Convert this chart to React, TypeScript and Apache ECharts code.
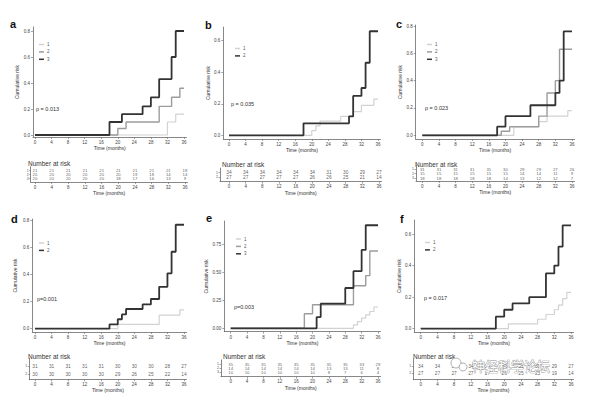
import React, { useEffect, useRef } from "react";
import * as echarts from "echarts";

const timeTicks = [0, 4, 8, 12, 16, 20, 24, 28, 32, 36];

// Panel a
const aCurve1 = [[0, 0], [32, 0.1], [34, 0.16], [36, 0.16]];
const aCurve2 = [[0, 0], [20, 0.05], [22, 0.1], [30, 0.22], [33, 0.29], [35, 0.36], [36, 0.36]];
const aCurve3 = [[0, 0], [18, 0.1], [21, 0.16], [26, 0.22], [28, 0.29], [30, 0.43], [33, 0.6], [34, 0.8], [36, 0.8]];
const aRisk1 = [21, 21, 21, 21, 21, 21, 21, 21, 21, 18];
const aRisk2 = [20, 20, 20, 20, 20, 20, 19, 18, 14, 14];
const aRisk3 = [20, 20, 20, 20, 20, 18, 17, 16, 13, 9];

// Panel b
const bCurve1 = [[0, 0], [20, 0.03], [21, 0.06], [22, 0.09], [27, 0.12], [30, 0.15], [32, 0.19], [35, 0.23], [36, 0.23]];
const bCurve2 = [[0, 0], [18, 0.076], [29, 0.12], [30, 0.25], [32, 0.3], [33, 0.46], [34, 0.66], [36, 0.66]];
const bRisk1 = [34, 34, 34, 34, 34, 34, 31, 30, 29, 27];
const bRisk2 = [27, 27, 27, 27, 27, 26, 26, 25, 21, 14];

// Panel c
const cCurve1 = [[0, 0], [22, 0.063], [28, 0.1], [30, 0.14], [35, 0.18], [36, 0.18]];
const cCurve2 = [[0, 0], [19, 0.03], [21, 0.063], [28, 0.14], [30, 0.31], [32, 0.4], [33, 0.63], [36, 0.63]];
const cCurve3 = [[0, 0], [18, 0.063], [20, 0.14], [26, 0.22], [32, 0.31], [33, 0.4], [34, 0.76], [36, 0.76]];
const cRisk1 = [31, 31, 31, 31, 31, 30, 29, 29, 27, 26];
const cRisk2 = [15, 15, 15, 15, 15, 15, 14, 14, 11, 9];
const cRisk3 = [18, 18, 18, 18, 18, 14, 13, 12, 12, 7];

// Panel d
const dCurve1 = [[0, 0], [20, 0.032], [30, 0.1], [35, 0.14], [36, 0.14]];
const dCurve2 = [[0, 0], [18, 0.032], [20, 0.07], [21, 0.106], [22, 0.146], [26, 0.18], [28, 0.22], [30, 0.31], [32, 0.41], [33, 0.57], [34, 0.77], [36, 0.77]];
const dRisk1 = [31, 31, 31, 31, 31, 30, 30, 30, 28, 27];
const dRisk2 = [30, 30, 30, 30, 30, 29, 26, 25, 22, 14];

// Panel e
const eCurve1 = [[0, 0], [30, 0.03], [31, 0.06], [32, 0.09], [33, 0.12], [34, 0.15], [35, 0.19], [36, 0.19]];
const eCurve2 = [[0, 0], [18, 0.13], [20, 0.21], [30, 0.38], [33, 0.47], [34, 0.69], [36, 0.69]];
const eCurve3 = [[0, 0], [21, 0.1], [22, 0.22], [28, 0.36], [30, 0.51], [32, 0.7], [33, 0.92], [36, 0.92]];
const eRisk1 = [35, 35, 35, 35, 35, 35, 35, 35, 33, 29];
const eRisk2 = [14, 14, 14, 14, 14, 14, 13, 13, 11, 8];
const eRisk3 = [10, 10, 10, 10, 10, 10, 8, 7, 6, 4];

// Panel f
const fCurve1 = [[0, 0], [21, 0.03], [28, 0.06], [30, 0.09], [32, 0.12], [33, 0.15], [34, 0.19], [35, 0.23], [36, 0.23]];
const fCurve2 = [[0, 0], [18, 0.076], [20, 0.12], [22, 0.16], [26, 0.2], [30, 0.35], [32, 0.4], [33, 0.52], [34, 0.655], [36, 0.655]];
const fRisk1 = [34, 34, 34, 34, 34, 34, 31, 30, 29, 27];
const fRisk2 = [27, 27, 27, 27, 27, 26, 25, 23, 19, 14];

const yTicks08 = [0, 0.2, 0.4, 0.6, 0.8];
const yTicks06 = [0, 0.2, 0.4, 0.6];
const yTicks075 = [0, 0.25, 0.5, 0.75];

const pValues = ["p = 0.013", "p = 0.035", "p = 0.023", "p=0.001", "p=0.003", "p = 0.017"];
const letters = ["a", "b", "c", "d", "e", "f"];

const FONT = "Liberation Sans, Arial, Helvetica, sans-serif";
const C1 = "#d2d2d2";
const C2 = "#9c9c9c";
const C3 = "#333333";
const AX = "#6a6a6a";

type L = {
  x0: number; x36: number; axisX: number; y0: number; yT: number; axisTop: number; xAxisY: number;
  yNameGap: number; xNameGap: number; letterX: number; letterY: number; pX: number; pY: number;
  legX: number; legY: number;
  tRows: number[]; tAxisY: number; tX0: number; tX36: number; tAxisX: number; tNameGap: number;
  narX: number; narY: number;
};

const layouts: L[] = [
  { x0: 35, x36: 184, axisX: 33, y0: 135, yT: 31, axisTop: 27, xAxisY: 137, yNameGap: 8.5, xNameGap: 8.5,
    letterX: 10, letterY: 24, pX: 36, pY: 109, legX: 39, legY: 42,
    tRows: [170.7, 174.7, 178.7], tAxisY: 182, tX0: 35, tX36: 185, tAxisX: 30.7, tNameGap: 5.5, narX: 28, narY: 163 },
  { x0: 229, x36: 378, axisX: 223.3, y0: 135.3, yT: 40.7, axisTop: 27, xAxisY: 139, yNameGap: 10, xNameGap: 6.8,
    letterX: 205, letterY: 25, pX: 231, pY: 104, legX: 235, legY: 46,
    tRows: [172.7, 177.3], tAxisY: 181.7, tX0: 229, tX36: 379, tAxisX: 220, tNameGap: 5, narX: 222, narY: 164 },
  { x0: 422.3, x36: 572, axisX: 415.7, y0: 135.3, yT: 26, axisTop: 25, xAxisY: 139, yNameGap: 10.5, xNameGap: 6.5,
    letterX: 396, letterY: 24, pX: 425, pY: 108, legX: 427, legY: 42,
    tRows: [169.3, 173.7, 178], tAxisY: 181, tX0: 422.3, tX36: 572, tAxisX: 416, tNameGap: 6.8, narX: 415, narY: 164 },
  { x0: 35, x36: 184, axisX: 32.3, y0: 328.7, yT: 220.7, axisTop: 219, xAxisY: 332, yNameGap: 14.8, xNameGap: 8.5,
    letterX: 11, letterY: 219, pX: 37, pY: 299, legX: 39, legY: 240.5,
    tRows: [366, 374], tAxisY: 379.3, tX0: 35, tX36: 184, tAxisX: 29.3, tNameGap: 5.2, narX: 28, narY: 356 },
  { x0: 230.7, x36: 378, axisX: 224.3, y0: 328.3, yT: 244.3, axisTop: 221, xAxisY: 331.7, yNameGap: 5.8, xNameGap: 7.5,
    letterX: 206, letterY: 218, pX: 234, pY: 307, legX: 236, legY: 236.5,
    tRows: [364, 368, 372.3], tAxisY: 376.7, tX0: 230.7, tX36: 378, tAxisX: 221, tNameGap: 5.8, narX: 223, narY: 356 },
  { x0: 420.7, x36: 571, axisX: 414.3, y0: 328.7, yT: 234, axisTop: 220, xAxisY: 332, yNameGap: 9, xNameGap: 8.5,
    letterX: 400, letterY: 219, pX: 424, pY: 298, legX: 425, legY: 240,
    tRows: [366, 373.3], tAxisY: 379.3, tX0: 420.7, tX36: 571, tAxisX: 413.3, tNameGap: 8.2, narX: 413, narY: 356 },
];

type S = { data: number[][]; color: string; width: number };
const panels: { curves: S[]; risks: number[][]; yTicks: number[]; dec: number }[] = [
  { curves: [{ data: aCurve1, color: C1, width: 1.2 }, { data: aCurve2, color: C2, width: 1.4 }, { data: aCurve3, color: C3, width: 1.8 }],
    risks: [aRisk1, aRisk2, aRisk3], yTicks: yTicks08, dec: 1 },
  { curves: [{ data: bCurve1, color: C1, width: 1.2 }, { data: bCurve2, color: C3, width: 1.8 }],
    risks: [bRisk1, bRisk2], yTicks: yTicks06, dec: 1 },
  { curves: [{ data: cCurve1, color: C1, width: 1.2 }, { data: cCurve2, color: C2, width: 1.4 }, { data: cCurve3, color: C3, width: 1.8 }],
    risks: [cRisk1, cRisk2, cRisk3], yTicks: yTicks08, dec: 1 },
  { curves: [{ data: dCurve1, color: C1, width: 1.2 }, { data: dCurve2, color: C3, width: 1.8 }],
    risks: [dRisk1, dRisk2], yTicks: yTicks08, dec: 1 },
  { curves: [{ data: eCurve1, color: C1, width: 1.2 }, { data: eCurve2, color: C2, width: 1.4 }, { data: eCurve3, color: C3, width: 1.8 }],
    risks: [eRisk1, eRisk2, eRisk3], yTicks: yTicks075, dec: 2 },
  { curves: [{ data: fCurve1, color: C1, width: 1.2 }, { data: fCurve2, color: C3, width: 1.8 }],
    risks: [fRisk1, fRisk2], yTicks: yTicks06, dec: 1 },
];

function buildOption() {
  const grid: any[] = [];
  const xAxis: any[] = [];
  const yAxis: any[] = [];
  const series: any[] = [];
  const legend: any[] = [];
  const graphic: any[] = [];

  panels.forEach((p, i) => {
    const l = layouts[i];
    const gi = i * 2;
    // plot grid
    const ppm = (l.x36 - l.x0) / 36;
    const xmin = -(l.x0 - l.axisX) / ppm;
    const xmax = 36 + 2.5 / ppm;
    const top = p.yTicks[p.yTicks.length - 1];
    const vpp = top / (l.y0 - l.yT);
    const ymin = -(l.xAxisY - l.y0) * vpp;
    const ymax = top + (l.yT - l.axisTop) * vpp;
    grid.push({ left: l.axisX, top: l.axisTop, width: l.x36 + 2.5 - l.axisX, height: l.xAxisY - l.axisTop, outerBoundsMode: "none" });
    const axLine = { onZero: false, lineStyle: { color: AX, width: 0.8 } };
    xAxis.push({
      gridIndex: gi, type: "value", min: xmin, max: xmax,
      axisLine: axLine,
      axisTick: { customValues: timeTicks, length: 2, lineStyle: { color: AX, width: 0.6 } },
      axisLabel: { customValues: timeTicks, fontSize: 4.5, margin: 3, color: "#444", fontFamily: FONT },
      splitLine: { show: false },
      name: "Time (months)", nameLocation: "middle", nameGap: l.xNameGap,
      nameTextStyle: { fontSize: 5, color: "#333", fontFamily: FONT },
    });
    yAxis.push({
      gridIndex: gi, type: "value", min: ymin, max: ymax,
      axisLine: { show: true, ...axLine },
      axisTick: { show: true, customValues: p.yTicks, length: 2, lineStyle: { color: AX, width: 0.6 } },
      axisLabel: { customValues: p.yTicks, fontSize: 4.5, margin: 3, color: "#444", fontFamily: FONT,
        formatter: (v: number) => v.toFixed(p.dec) },
      splitLine: { show: false },
      name: "Cumulative risk", nameLocation: "middle", nameRotate: 90, nameGap: l.yNameGap,
      nameTextStyle: { fontSize: 5, color: "#333", fontFamily: FONT },
    });
    const names: string[] = [];
    p.curves.forEach((c, k) => {
      const nm = letters[i] + String(k + 1);
      names.push(nm);
      series.push({
        type: "line", name: nm, xAxisIndex: gi, yAxisIndex: gi, step: "end",
        showSymbol: false, symbol: "none", data: c.data,
        lineStyle: { color: c.color, width: c.width }, itemStyle: { color: c.color },
        z: 2 + k,
      });
    });
    legend.push({
      orient: "vertical", left: l.legX, top: l.legY, padding: 0, itemGap: 2.4,
      itemWidth: 5, itemHeight: 1.5, icon: "rect", data: names,
      formatter: (n: string) => n.slice(1), selectedMode: false,
      textStyle: { fontSize: 4.5, color: "#555", fontFamily: FONT, padding: [0, 0, 0, -2] },
    });

    // table grid
    const n = p.risks.length;
    const s = (l.tRows[n - 1] - l.tRows[0]) / (n - 1);
    const ttop = l.tRows[0] - s;
    const th = l.tAxisY - ttop;
    const tppm = (l.tX36 - l.tX0) / 36;
    grid.push({ left: l.tAxisX, top: ttop, width: l.tX36 + 2.5 - l.tAxisX, height: th, outerBoundsMode: "none" });
    xAxis.push({
      gridIndex: gi + 1, type: "value", min: -(l.tX0 - l.tAxisX) / tppm, max: 36 + 2.5 / tppm,
      axisLine: axLine,
      axisTick: { customValues: timeTicks, length: 2, lineStyle: { color: AX, width: 0.6 } },
      axisLabel: { customValues: timeTicks, fontSize: 4.5, margin: 2.5, color: "#444", fontFamily: FONT },
      splitLine: { show: false },
      name: "Time (months)", nameLocation: "middle", nameGap: l.tNameGap,
      nameTextStyle: { fontSize: 5, color: "#333", fontFamily: FONT },
    });
    const rowIdx = p.risks.map((_, k) => k);
    yAxis.push({
      gridIndex: gi + 1, type: "value", inverse: true, min: -1, max: -1 + th / s,
      axisLine: { show: true, ...axLine },
      axisTick: { show: true, customValues: rowIdx, length: 1.5, lineStyle: { color: AX, width: 0.6 } },
      axisLabel: { customValues: rowIdx, fontSize: 3.5, margin: 2, color: "#555", fontFamily: FONT,
        formatter: (v: number) => String(v + 1) },
      splitLine: { show: false },
    });
    p.risks.forEach((r, k) => {
      series.push({
        type: "scatter", xAxisIndex: gi + 1, yAxisIndex: gi + 1, symbolSize: 1,
        itemStyle: { color: "transparent" }, silent: true,
        data: r.map((v, j) => [timeTicks[j], k, v]),
        label: { show: true, position: "inside", formatter: (q: any) => String(q.value[2]),
          fontSize: n === 3 ? 4.3 : 4.8, color: "#333", fontFamily: FONT },
      });
    });

    graphic.push({ type: "text", x: l.letterX, y: l.letterY,
      style: { text: letters[i], font: `bold 11px ${FONT}`, fill: "#111", verticalAlign: "middle" } });
    graphic.push({ type: "text", x: l.pX, y: l.pY,
      style: { text: pValues[i], font: `5.5px ${FONT}`, fill: "#333", verticalAlign: "middle" } });
    graphic.push({ type: "text", x: l.narX, y: l.narY,
      style: { text: "Number at risk", font: `6.5px ${FONT}`, fill: "#333", verticalAlign: "middle" } });
  });

  // watermark
  graphic.push({ type: "circle", shape: { cx: 456, cy: 363, r: 5 }, style: { fill: "#fff", stroke: "#999", lineWidth: 0.8 }, z: 100 });
  graphic.push({ type: "circle", shape: { cx: 463, cy: 367, r: 4 }, style: { fill: "#fff", stroke: "#999", lineWidth: 0.8 }, z: 100 });
  graphic.push({ type: "text", x: 472, y: 365, z: 100,
    style: { text: "神经科学论坛", font: `13px "Noto Sans CJK SC"`, fill: "#ffffff", stroke: "#8a8a8a", lineWidth: 0.8, verticalAlign: "middle" } });

  return {
    animation: false,
    backgroundColor: "#ffffff",
    textStyle: { fontFamily: FONT },
    grid, xAxis, yAxis, series, legend, graphic,
  };
}

export default function App() {
  const ref = useRef<HTMLDivElement>(null);
  useEffect(() => {
    if (!ref.current) return;
    const chart = echarts.init(ref.current, undefined, { renderer: "svg" });
    chart.setOption(buildOption() as any);
    return () => chart.dispose();
  }, []);
  return <div ref={ref} style={{ position: "absolute", left: 0, top: 0, width: 590, height: 400 }} />;
}
